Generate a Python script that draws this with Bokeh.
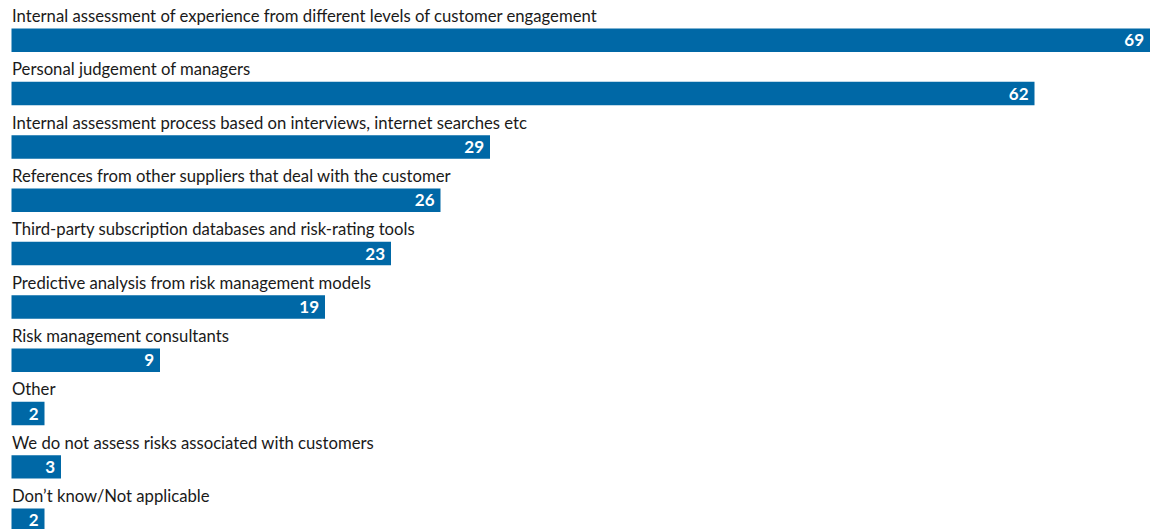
from bokeh.plotting import figure
from bokeh.models import ColumnDataSource, Range1d
from bokeh.core.properties import value
from bokeh.embed import file_html
from bokeh.resources import INLINE

categories = [
    "Internal assessment of experience from different levels of customer engagement",
    "Personal judgement of managers",
    "Internal assessment process based on interviews, internet searches etc",
    "References from other suppliers that deal with the customer",
    "Third-party subscription databases and risk-rating tools",
    "Predictive analysis from risk management models",
    "Risk management consultants",
    "Other",
    "We do not assess risks associated with customers",
    "Don\u2019t know/Not applicable",
]
values = [69, 62, 29, 26, 23, 19, 9, 2, 3, 2]

PX_X = 16.5     # pixels per unit
PITCH = 53.33   # pixels per row
rows = list(range(len(categories)))
src = ColumnDataSource(dict(
    y=rows,
    v=values,
    lab=categories,
    vlab=[str(v) for v in values],
    ly=[r - 0.455 for r in rows],
    zero=[0] * len(rows),
))

W, H = 1154, 529
p = figure(width=W, height=H, output_backend="svg", toolbar_location=None,
           x_range=Range1d(-11 / PX_X, (W - 11) / PX_X),
           y_range=Range1d((H - 39.75) / PITCH, -39.75 / PITCH),
           min_border=0, min_border_left=0, min_border_right=0,
           min_border_top=0, min_border_bottom=0)
p.axis.visible = False
p.grid.visible = False
p.outline_line_color = None
p.background_fill_color = "white"
p.border_fill_color = "white"

p.hbar(y="y", left=0, right="v", height=0.44, source=src,
       fill_color="#0068a6", line_color=None)

p.text(x="zero", y="ly", text="lab", source=src,
       text_font=value("Lato"), text_font_size="16.7px", text_color="#1a1a1a",
       text_align="left", text_baseline="alphabetic", x_offset=0.5)

p.text(x="v", y="y", text="vlab", source=src,
       text_font=value("Lato"), text_font_size="17px", text_font_style="bold",
       text_color="white", text_align="right", text_baseline="middle",
       x_offset=-6)

open("out.html", "w").write(file_html(p, INLINE))
